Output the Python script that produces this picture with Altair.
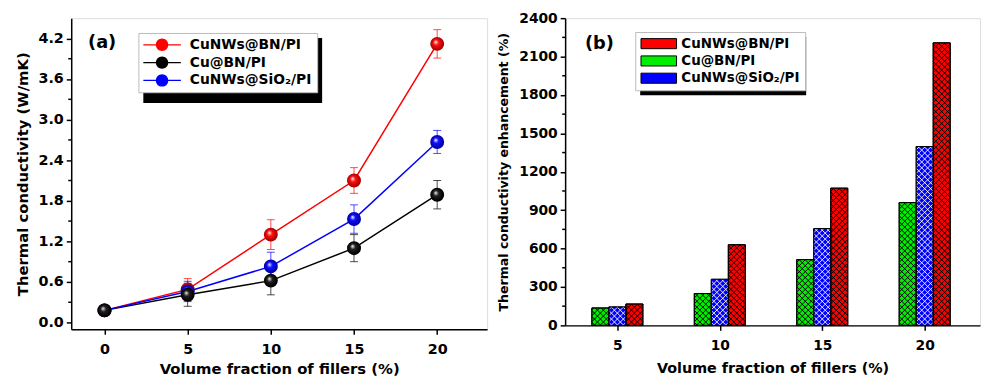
import altair as alt
import pandas as pd

# ---------------- data ----------------
series_names = ["CuNWs@BN/PI", "Cu@BN/PI", "CuNWs@SiO₂/PI"]
line_colors = ["#ff0000", "#000000", "#0000ff"]
bar_colors = ["#ff0000", "#00ee00", "#0000ff"]
hatch_colors = ["#000000", "#000000", "#ffffff"]
hatch_widths = [1.0, 1.0, 0.9]

fraction_a = [0, 5, 10, 15, 20]
tc_cunws_bn = [0.18, 0.49, 1.30, 2.10, 4.12]
tc_cu_bn = [0.18, 0.41, 0.62, 1.10, 1.89]
tc_cunws_sio2 = [0.18, 0.46, 0.83, 1.53, 2.67]
err_cunws_bn = [0.02, 0.16, 0.22, 0.19, 0.21]
err_cu_bn = [0.02, 0.17, 0.21, 0.20, 0.21]
err_cunws_sio2 = [0.02, 0.15, 0.21, 0.21, 0.17]

fraction_b = [5, 10, 15, 20]
enh_cunws_bn = [167, 630, 1072, 2207]
enh_cu_bn = [136, 249, 514, 959]
enh_cunws_sio2 = [144, 360, 756, 1397]

# bar position inside a group (left to right): Cu@BN, SiO2, CuNWs@BN
bar_slot = [1, -1, 0]
bar_width = 0.83

x_ticks_a = [0, 5, 10, 15, 20]
y_ticks_a = [0.0, 0.6, 1.2, 1.8, 2.4, 3.0, 3.6, 4.2]
y_minor_a = [0.3, 0.9, 1.5, 2.1, 2.7, 3.3, 3.9]
x_ticks_b = [5, 10, 15, 20]
y_ticks_b = [0, 300, 600, 900, 1200, 1500, 1800, 2100, 2400]
y_minor_b = [150, 450, 750, 1050, 1350, 1650, 1950, 2250]

# ---------------- sizes ----------------
W_A, H_A = 421, 315
W_B, H_B = 420, 311
XA_DOM = [-2, 23]
YA_DOM = [-0.1, 4.5]
XB_DOM = [2.45, 22.7]
YB_DOM = [0, 2400]
FONT = "DejaVu Sans"

# ---------------- tables ----------------
rows = []
for name, col, vals, errs in zip(series_names, line_colors,
                                 [tc_cunws_bn, tc_cu_bn, tc_cunws_sio2],
                                 [err_cunws_bn, err_cu_bn, err_cunws_sio2]):
    for f, v, e in zip(fraction_a, vals, errs):
        rows.append({"fraction": f, "series": name, "col": col, "k": v,
                     "lo": v - e, "hi": v + e})
df_a = pd.DataFrame(rows)

brow = []
for i, (name, vals) in enumerate(zip(series_names, [enh_cunws_bn, enh_cu_bn, enh_cunws_sio2])):
    for f, v in zip(fraction_b, vals):
        c = f + bar_slot[i] * bar_width
        brow.append({"sample": name, "fraction": f, "value": v, "base": 0,
                     "x0": c - bar_width / 2, "x1": c + bar_width / 2,
                     "hc": hatch_colors[i], "hw": hatch_widths[i]})
df_b = pd.DataFrame(brow)

# cross-hatch segments drawn through the same scales
kx = W_B / (XB_DOM[1] - XB_DOM[0])
ky = H_B / (YB_DOM[1] - YB_DOM[0])
step = 6.0
hrows = []
for r in brow:
    w = (r["x1"] - r["x0"]) * kx
    h = r["value"] * ky
    n = int((w + h) / step) + 2
    for i in range(n):
        c = -w + (i + 0.5) * step  # slope +1 : t = u + c
        ulo, uhi = max(0.0, -c), min(w, h - c)
        if uhi > ulo:
            hrows.append({"hx": r["x0"] + ulo / kx, "hy": (ulo + c) / ky,
                          "hx2": r["x0"] + uhi / kx, "hy2": (uhi + c) / ky,
                          "hc": r["hc"], "hw": r["hw"]})
        c2 = (i + 0.5) * step  # slope -1 : t = -u + c2
        ulo, uhi = max(0.0, c2 - h), min(w, c2)
        if uhi > ulo:
            hrows.append({"hx": r["x0"] + ulo / kx, "hy": (c2 - ulo) / ky,
                          "hx2": r["x0"] + uhi / kx, "hy2": (c2 - uhi) / ky,
                          "hc": r["hc"], "hw": r["hw"]})
df_h = pd.DataFrame(hrows)

# ---------------- panel (a) ----------------
axis_common = dict(domainColor="black", domainWidth=1.5, tickColor="black", tickWidth=1.5,
                   tickSize=5, labelFont=FONT, labelFontWeight="bold", labelColor="black",
                   titleFont=FONT, titleFontWeight="bold", titleColor="black", grid=False)

xa = alt.X("fraction:Q", scale=alt.Scale(domain=XA_DOM, nice=False, zero=False),
           axis=alt.Axis(values=x_ticks_a, title="Volume fraction of fillers (%)",
                         labelFontSize=14.5, titleFontSize=15, labelPadding=8, titlePadding=6,
                         **axis_common))
ya_scale = alt.Scale(domain=YA_DOM, nice=False, zero=False)
ya_axis = alt.Axis(values=y_ticks_a, format=".1f", title="Thermal conductivity (W/mK)",
                   labelFontSize=14.5, titleFontSize=15, labelPadding=3, titlePadding=8,
                   **axis_common)
ya = alt.Y("k:Q", scale=ya_scale, axis=ya_axis)
cscale = alt.Scale(domain=series_names, range=line_colors)
stroke_lit = alt.Stroke("col:N", scale=None, legend=None)

base_a = alt.Chart(df_a)
lines = base_a.mark_line(strokeWidth=1.5).encode(x=xa, y=ya, stroke=stroke_lit, detail="series:N")
err_rule = base_a.mark_rule(strokeWidth=1, opacity=0.7).encode(
    x=xa, y=alt.Y("lo:Q", scale=ya_scale, axis=ya_axis), y2="hi:Q", stroke=stroke_lit)
cap_lo = base_a.mark_point(shape="M-1,0H1", size=64, strokeWidth=1, opacity=0.7).encode(
    x=xa, y=alt.Y("lo:Q", scale=ya_scale, axis=ya_axis), stroke=stroke_lit)
cap_hi = base_a.mark_point(shape="M-1,0H1", size=64, strokeWidth=1, opacity=0.7).encode(
    x=xa, y=alt.Y("hi:Q", scale=ya_scale, axis=ya_axis), stroke=stroke_lit)

# legend glyph: thin filled bars left/right of a filled circle
leg_a_path = ("M-1,-0.1H0.85V0.1H-1Z M2.57,-0.1H4.43V0.1H2.57Z "
              "M0.81,0A0.9,0.9,0,1,1,2.61,0A0.9,0.9,0,1,1,0.81,0Z")
leg_a = alt.Legend(title=None, orient="none", legendX=68, legendY=15, symbolType=leg_a_path,
                   symbolSize=196, symbolStrokeWidth=0, labelFontSize=14, labelOffset=33,
                   padding=5, rowPadding=4, fillColor="white", strokeColor="#bbbbbb",
                   labelFont=FONT, labelFontWeight="bold", labelColor="black", zindex=2)
base_pts = base_a.mark_point(filled=True, size=90, opacity=1).encode(
    x=xa, y=ya, color=alt.Color("series:N", scale=cscale, legend=leg_a))


def sphere(col, dark):
    return {"gradient": "radial", "x1": 0.38, "y1": 0.35, "r1": 0.0,
            "x2": 0.5, "y2": 0.5, "r2": 0.55,
            "stops": [{"offset": 0.0, "color": "#ffffff"},
                      {"offset": 0.35, "color": col},
                      {"offset": 0.85, "color": dark},
                      {"offset": 1.0, "color": dark}]}


sphere_defs = {"CuNWs@BN/PI": ("#ff1010", "#aa0000"),
               "Cu@BN/PI": ("#202020", "#000000"),
               "CuNWs@SiO₂/PI": ("#1010ff", "#0000aa")}
spheres = []
for name in ["CuNWs@BN/PI", "CuNWs@SiO₂/PI", "Cu@BN/PI"]:
    col, dark = sphere_defs[name]
    spheres.append(base_a.transform_filter(alt.datum.series == name)
                   .mark_point(filled=True, size=200, opacity=1, strokeWidth=0,
                               fill=sphere(col, dark))
                   .encode(x=xa, y=ya))

minor_a = alt.Chart(pd.DataFrame({"v": y_minor_a})).mark_rule(color="black", strokeWidth=1.5).encode(
    y=alt.Y("v:Q", scale=ya_scale, axis=ya_axis), x=alt.value(-3), x2=alt.value(0))

label_a = alt.Chart(pd.DataFrame({"t": ["(a)"]})).mark_text(
    align="left", baseline="middle", fontSize=18, fontWeight="bold", font=FONT, color="black"
).encode(x=alt.value(17), y=alt.value(25), text="t:N")

shadow_a = alt.Chart(pd.DataFrame({"t": [1]})).mark_rect(color="black").encode(
    x=alt.value(73), x2=alt.value(254), y=alt.value(20), y2=alt.value(86))

panel_a = alt.layer(minor_a, shadow_a, base_pts, lines, err_rule, cap_lo, cap_hi, *spheres, label_a
                    ).properties(width=W_A, height=H_A)

# ---------------- panel (b) ----------------
xb_scale = alt.Scale(domain=XB_DOM, nice=False, zero=False)
xb_axis = alt.Axis(values=x_ticks_b, title="Volume fraction of fillers (%)",
                   labelFontSize=14, titleFontSize=14.5, labelPadding=8, titlePadding=10,
                   **axis_common)
yb_scale = alt.Scale(domain=YB_DOM, nice=False)
yb_axis = alt.Axis(values=y_ticks_b, format="d", title="Thermal conductivity enhancement (%)",
                   labelFontSize=14, titleFontSize=12.7, labelPadding=3, titlePadding=8,
                   **axis_common)
bscale = alt.Scale(domain=series_names, range=bar_colors)
leg_b = alt.Legend(title=None, orient="none", legendX=71, legendY=14,
                   symbolType="M-1,-0.85H5V0.85H-1Z", symbolSize=144,
                   symbolStrokeColor="black", symbolStrokeWidth=1,
                   labelFontSize=13.6, labelOffset=28, padding=5, rowPadding=2.5,
                   fillColor="white", strokeColor="#bbbbbb",
                   labelFont=FONT, labelFontWeight="bold", labelColor="black", zindex=2)

base_b = alt.Chart(df_b)
bars = base_b.mark_bar(stroke="black", strokeWidth=1).encode(
    x=alt.X("x0:Q", scale=xb_scale, axis=xb_axis), x2="x1:Q",
    y=alt.Y("value:Q", scale=yb_scale, axis=yb_axis), y2="base:Q",
    color=alt.Color("sample:N", scale=bscale, legend=leg_b))
hatch = alt.Chart(df_h).mark_rule().encode(
    x=alt.X("hx:Q", scale=xb_scale, axis=xb_axis), x2="hx2:Q",
    y=alt.Y("hy:Q", scale=yb_scale, axis=yb_axis), y2="hy2:Q",
    stroke=alt.Stroke("hc:N", scale=None, legend=None),
    strokeWidth=alt.StrokeWidth("hw:Q", scale=None, legend=None))
outline = base_b.mark_bar(fill="transparent", stroke="black", strokeWidth=1).encode(
    x=alt.X("x0:Q", scale=xb_scale, axis=xb_axis), x2="x1:Q",
    y=alt.Y("value:Q", scale=yb_scale, axis=yb_axis), y2="base:Q")

minor_b = alt.Chart(pd.DataFrame({"v": y_minor_b})).mark_rule(color="black", strokeWidth=1.5).encode(
    y=alt.Y("v:Q", scale=yb_scale, axis=yb_axis), x=alt.value(-3), x2=alt.value(0))

label_b = alt.Chart(pd.DataFrame({"t": ["(b)"]})).mark_text(
    align="left", baseline="middle", fontSize=18, fontWeight="bold", font=FONT, color="black"
).encode(x=alt.value(20), y=alt.value(26), text="t:N")

shadow_b = alt.Chart(pd.DataFrame({"t": [1]})).mark_rect(color="black").encode(
    x=alt.value(76), x2=alt.value(244), y=alt.value(19), y2=alt.value(78))

panel_b = alt.layer(minor_b, shadow_b, bars, hatch, outline, label_b
                    ).properties(width=W_B, height=H_B)

chart = alt.hconcat(panel_a, panel_b, spacing=9).resolve_scale(
    color="independent", stroke="independent", strokeWidth="independent"
).resolve_legend(
    color="independent"
).properties(
    padding={"left": 6, "top": 0, "right": 0, "bottom": 0}
).configure_view(stroke="black", strokeWidth=1.5).configure(background="white")

chart.save("out.html", embed_options={"renderer": "svg", "actions": False})
